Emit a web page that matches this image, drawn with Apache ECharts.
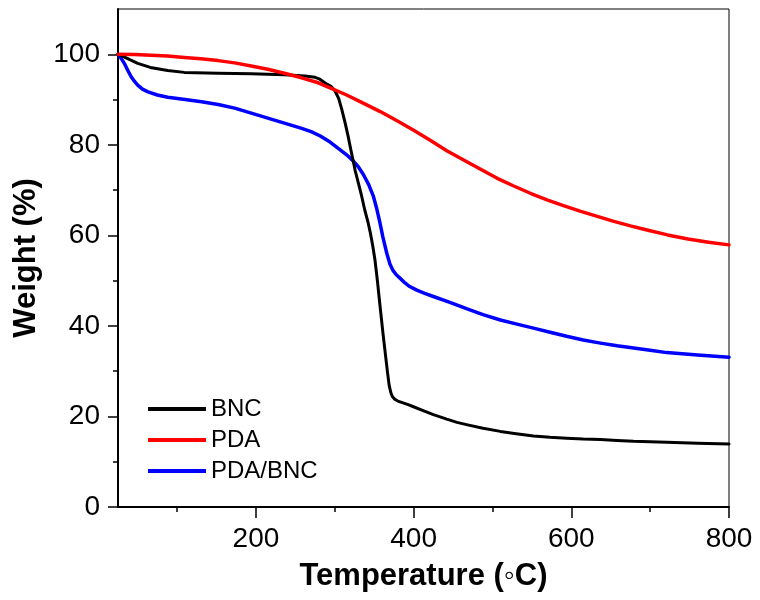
<!DOCTYPE html>
<html>
<head>
<meta charset="utf-8">
<script src="https://cdn.jsdelivr.net/npm/echarts@6/dist/echarts.min.js"></script>
<style>
  html, body { margin: 0; padding: 0; background: #fff; }
  #chart { width: 760px; height: 600px; }
</style>
</head>
<body>
<div id="chart"></div>
<script>
// TGA curves: [temperature (°C), weight (%)]
const bncData = [
  [25, 100], [32, 99.5], [40, 98.8], [50, 98.0], [66, 97.1], [88, 96.4], [109, 96.0], [152, 95.8],
  [194, 95.7], [236, 95.5], [262, 95.2], [275, 94.9], [281, 94.5], [285, 94.0], [290, 93.4],
  [295, 92.9], [300, 92.0], [305, 90.2], [309, 87.7], [313, 84.9], [317, 81.8], [320, 79.2],
  [323, 76.7], [326, 74.2], [330, 71.5], [334, 68.7], [338, 65.6], [342, 63.0], [345, 60.6],
  [348, 57.8], [351, 54.5], [354, 50.0], [357, 45.0], [361, 38.5], [364, 34.0], [367, 29.5],
  [369, 26.8], [371, 25.3], [373, 24.4], [376, 23.8], [380, 23.4], [393, 22.6], [399, 22.2],
  [412, 21.3], [425, 20.4], [442, 19.4], [455, 18.7], [467, 18.2], [488, 17.4], [510, 16.7],
  [530, 16.2], [552, 15.7], [573, 15.4], [594, 15.2], [615, 15.0], [637, 14.9], [658, 14.7],
  [679, 14.5], [700, 14.4], [721, 14.3], [760, 14.1], [800, 13.9],
];
const pdaData = [
  [25, 100], [46, 99.95], [67, 99.8], [88, 99.6], [109, 99.3], [130, 99.0], [152, 98.6],
  [173, 98.1], [194, 97.4], [215, 96.7], [236, 95.8], [258, 94.8], [279, 93.7], [294, 92.6],
  [315, 91.0], [336, 89.2], [357, 87.4], [379, 85.3], [400, 83.2], [421, 81.0], [442, 78.7],
  [464, 76.6], [485, 74.6], [506, 72.6], [527, 70.9], [548, 69.3], [570, 67.8], [591, 66.5],
  [612, 65.3], [633, 64.2], [654, 63.1], [675, 62.1], [696, 61.2], [722, 60.1], [748, 59.2],
  [774, 58.5], [800, 57.9],
];
const pdaBncData = [
  [25, 100], [29, 99.1], [33, 98.0], [37, 96.6], [41.5, 95.1], [46, 94.0], [50, 93.2],
  [56, 92.3], [63, 91.7], [75, 91.0], [88, 90.5], [110, 90.0], [131, 89.5], [152, 88.9],
  [173, 88.1], [194, 87.0], [215, 85.9], [236, 84.8], [257, 83.7], [270, 82.9], [281, 82.0],
  [294, 80.6], [306, 79.0], [315, 77.8], [323, 76.5], [330, 75.1], [336, 73.5], [343, 71.2],
  [349, 68.6], [353, 66.0], [357, 63.0], [361, 59.6], [366, 56.0], [370, 53.6], [374, 52.2],
  [378, 51.3], [383, 50.5], [389, 49.5], [395, 48.7], [404, 47.9], [414, 47.2], [425, 46.5],
  [446, 45.2], [467, 43.8], [488, 42.5], [510, 41.3], [531, 40.4], [552, 39.5], [573, 38.6],
  [594, 37.7], [615, 36.9], [637, 36.2], [658, 35.6], [679, 35.1], [700, 34.6], [721, 34.1],
  [760, 33.6], [800, 33.1],
];

const seriesNames = ['BNC', 'PDA', 'PDA/BNC'];
const seriesColors = ['#000000', '#ff0000', '#0000ff'];
const xMajorTicks = [200, 400, 600, 800];
const xMinorTicks = [100, 300, 500, 700];
const yMajorTicks = [0, 20, 40, 60, 80, 100];
const yMinorTicks = [10, 30, 50, 70, 90];

const font = '"Liberation Sans", Arial, sans-serif';
const chart = echarts.init(document.getElementById('chart'));

const hiddenAxis = (ticks, len) => ({
  axisLine: { show: false },
  axisLabel: { show: false },
  axisTick: { show: true, inside: false, length: len, customValues: ticks, lineStyle: { color: '#000', width: 1.5 } },
  splitLine: { show: false },
});

const option = {
  animation: false,
  backgroundColor: '#fff',
  grid: {
    left: 118, right: 31, top: 9, bottom: 93,
    show: true, borderColor: '#000', borderWidth: 1,
  },
  legend: {
    orient: 'vertical',
    left: 143,
    top: 392,
    itemWidth: 58,
    itemHeight: 4,
    itemGap: 7,
    icon: 'rect',
    textStyle: { fontFamily: font, fontSize: 24, color: '#000' },
    data: seriesNames,
  },
  xAxis: [
    {
      type: 'value',
      min: 25,
      max: 800,
      name: 'Temperature (◦C)',
      nameLocation: 'middle',
      nameGap: 54,
      nameTextStyle: { fontFamily: font, fontSize: 31, fontWeight: 'bold', color: '#000' },
      axisLine: { show: true, lineStyle: { color: '#000', width: 2 } },
      axisTick: { show: true, length: 11, customValues: xMajorTicks, lineStyle: { color: '#000', width: 1.5 } },
      axisLabel: { customValues: xMajorTicks, margin: 18, fontFamily: font, fontSize: 28, color: '#000' },
      splitLine: { show: false },
    },
    { type: 'value', min: 25, max: 800, position: 'bottom', ...hiddenAxis(xMinorTicks, 5) },
  ],
  yAxis: [
    {
      type: 'value',
      min: 0,
      max: 110,
      name: 'Weight (%)',
      nameLocation: 'middle',
      nameGap: 69,
      nameTextStyle: { fontFamily: font, fontSize: 31, fontWeight: 'bold', color: '#000' },
      axisLine: { show: true, lineStyle: { color: '#000', width: 2 } },
      axisTick: { show: true, length: 10, customValues: yMajorTicks, lineStyle: { color: '#000', width: 1.5 } },
      axisLabel: { customValues: yMajorTicks, margin: 18, fontFamily: font, fontSize: 28, color: '#000' },
      splitLine: { show: false },
    },
    { type: 'value', min: 0, max: 110, position: 'left', ...hiddenAxis(yMinorTicks, 5) },
  ],
  series: [bncData, pdaData, pdaBncData].map((data, i) => ({
    name: seriesNames[i],
    type: 'line',
    data,
    symbol: 'none',
    smooth: false,
    color: seriesColors[i],
    z: [3, 4, 2][i],
    lineStyle: { color: seriesColors[i], width: i === 0 ? 3 : 3.5, join: 'round', cap: 'round' },
  })),
};

chart.setOption(option);
</script>
</body>
</html>
